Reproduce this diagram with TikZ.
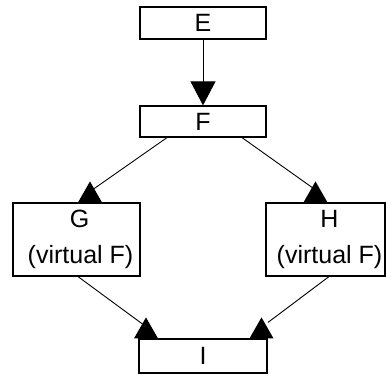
\documentclass[tikz,border=0pt]{standalone}
\usepackage{fontspec}
\setmainfont{Liberation Sans}
\usetikzlibrary{arrows.meta,calc}

\tikzset{
	box/.style={draw,line width=1.2pt,inner sep=0pt,align=center,font=\fontsize{25}{36}\selectfont},
	conn/.style={line width=0.9pt},
}
% filled head standing on the top edge of a box
\newcommand{\headup}[1]{\fill #1 ++(-12,0) -- ++(24,0) -- ++(-12,-21) -- cycle;}

\begin{document}
\begin{tikzpicture}[x=1pt,y=-1pt]
	\useasboundingbox (0,0) rectangle (386,377);
	
	\node[box,minimum width=126pt,minimum height=32pt] (E) at (203,23) {E};
	\node[box,minimum width=126pt,minimum height=31pt] (F) at (203,121.5) {F};
	\node[box,minimum width=127pt,minimum height=73pt] (G) at (76.5,239.5) {\hspace*{6pt}G\\\hspace*{8pt}(virtual F)};
	\node[box,minimum width=119pt,minimum height=73pt] (H) at (325.5,239.5) {\hspace*{8pt}H\\\hspace*{8pt}(virtual F)};
	\node[box,minimum width=128pt,minimum height=34pt] (I) at (203,356) {I};
	
	\draw[conn,-{Triangle[length=24pt,width=25pt]}] (E) -- (F);
	
	% F down to G and H
	\draw[conn] ($(F.south)+(-36,0)$) -- ($(G.north)+(16.5,-13)$);
	\headup{($(G.north)+(13.5,0)$)}
	\draw[conn] ($(F.south)+(39,0)$) -- ($(H.north)+(-13.5,-15)$);
	\headup{($(H.north)+(-10,0)$)}
	
	% G and H down to I
	\draw[conn] ($(G.south)+(1.5,0)$) -- ($(I.north)+(-60,-14)$);
	\headup{($(I.north)+(-57,0)$)}
	\draw[conn] ($(H.south)+(3.5,0)$) -- ($(I.north)+(65,-16)$);
	\headup{($(I.north)+(58.5,0)$)}
\end{tikzpicture}
\end{document}
